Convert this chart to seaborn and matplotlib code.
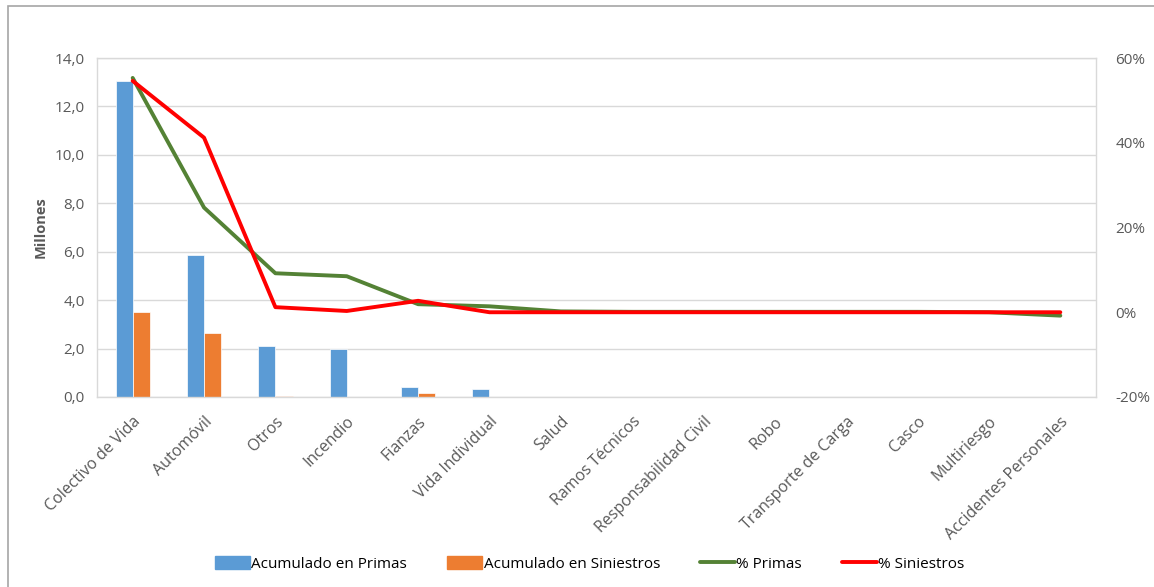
import numpy as np
import pandas as pd
import matplotlib
matplotlib.use("Agg")
import matplotlib.pyplot as plt
import seaborn as sns
from matplotlib.lines import Line2D
from matplotlib.patches import Patch, Rectangle
from matplotlib.ticker import FuncFormatter

ramos = ["Colectivo de Vida", "Automóvil", "Otros", "Incendio", "Fianzas",
         "Vida Individual", "Salud", "Ramos Técnicos", "Responsabilidad Civil",
         "Robo", "Transporte de Carga", "Casco", "Multiriesgo",
         "Accidentes Personales"]
primas = [13.05, 5.85, 2.10, 1.98, 0.42, 0.32, 0.01, 0.0, 0.0, 0.0, 0.0, 0.0, 0.0, -0.06]
siniestros = [3.50, 2.63, 0.05, 0.02, 0.17, 0.01, 0.0, 0.0, 0.0, 0.0, 0.0, 0.0, 0.0, 0.0]
pct_primas = [55.3, 24.7, 9.2, 8.5, 1.9, 1.4, 0.2, 0.1, 0.1, 0.1, 0.1, 0.1, 0.0, -0.8]
pct_siniestros = [54.6, 41.2, 1.2, 0.3, 2.7, 0.0, 0.0, 0.0, 0.0, 0.0, 0.0, 0.0, 0.0, 0.0]

azul = "#5B9BD5"
naranja = "#ED7D31"
verde = "#548235"
rojo = "#FF0000"
gris = "#595959"

df = pd.DataFrame({"Ramo": ramos * 2,
                   "Valor": primas + siniestros,
                   "Serie": ["Acumulado en Primas"] * len(ramos) + ["Acumulado en Siniestros"] * len(ramos)})

sns.set_style("white")
plt.rcParams["font.family"] = ["Open Sans", "DejaVu Sans"]

fig = plt.figure(figsize=(11.54, 5.87), dpi=100)
ax = fig.add_axes([97 / 1154, 1 - 397 / 587, (1096 - 97) / 1154, (397 - 58) / 587])

sns.barplot(data=df, x="Ramo", y="Valor", hue="Serie", palette=[azul, naranja],
            width=0.48, ax=ax, legend=False, saturation=1, edgecolor="white", linewidth=0.5)

ax.set_ylim(0, 14)
ax.set_yticks(np.arange(0, 14.1, 2))
ax.yaxis.set_major_formatter(FuncFormatter(lambda v, p: f"{v:.1f}".replace(".", ",")))
ax.grid(axis="y", color="#D9D9D9", linewidth=1)
ax.set_axisbelow(True)
ax.set_xlim(-0.5, len(ramos) - 0.5)
ax.set_xlabel("")
ax.set_ylabel("Millones", fontsize=10.5, fontweight="bold", color=gris, labelpad=5)
ax.tick_params(axis="y", labelsize=11, colors=gris, length=0, pad=9)
ax.tick_params(axis="x", labelsize=11.5, colors=gris, length=0, pad=12)
plt.setp(ax.get_xticklabels(), rotation=45, ha="right", rotation_mode="anchor")
for s in ax.spines.values():
    s.set_color("#D9D9D9")
    s.set_linewidth(1)

ax2 = ax.twinx()
x = np.arange(len(ramos))
sns.lineplot(x=x, y=pct_primas, color=verde, linewidth=2.8, ax=ax2)
sns.lineplot(x=x, y=pct_siniestros, color=rojo, linewidth=2.8, ax=ax2)
ax2.set_ylim(-20, 60)
ax2.set_yticks([-20, 0, 20, 40, 60])
ax2.yaxis.set_major_formatter(FuncFormatter(lambda v, p: f"{v:.0f}%"))
ax2.tick_params(axis="y", labelsize=11, colors=gris, length=0, pad=14)
for s in ax2.spines.values():
    s.set_visible(False)

handles = [Patch(color=azul, label="Acumulado en Primas"),
           Patch(color=naranja, label="Acumulado en Siniestros"),
           Line2D([0], [0], color=verde, linewidth=2.8, label="% Primas"),
           Line2D([0], [0], color=rojo, linewidth=2.8, label="% Siniestros")]
fig.legend(handles=handles, loc="center", bbox_to_anchor=(0.511, 1 - 564 / 587), ncol=4,
           frameon=False, fontsize=11, handlelength=2.3, handleheight=0.9,
           columnspacing=2.6, handletextpad=0.1, labelcolor="black")

fig.patches.append(Rectangle((8 / 1154, -0.05), 1.1, 1 - 6 / 587 + 0.05,
                             transform=fig.transFigure, fill=False,
                             edgecolor="#A6A6A6", linewidth=1.2))

fig.savefig("out.png", dpi=100)
